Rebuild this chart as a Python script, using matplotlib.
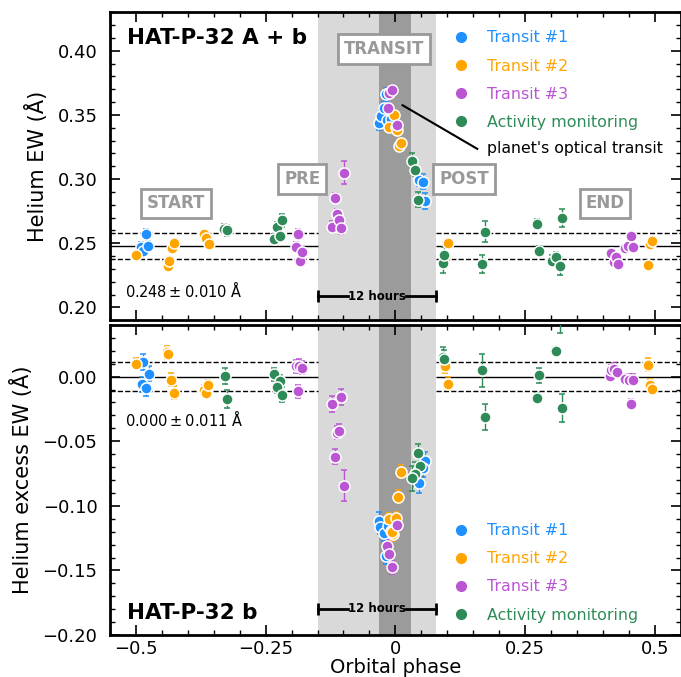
import numpy as np
import matplotlib.pyplot as plt
from matplotlib.lines import Line2D
from matplotlib.ticker import MultipleLocator

# ---- data ----
# top panel: Helium EW (A)
t1_ph = [-0.49, -0.487, -0.481, -0.476, -0.032, -0.0275, -0.022, -0.018, -0.017, -0.008, 0.045, 0.054, 0.058]
t1_ew = [0.247, 0.244, 0.257, 0.248, 0.344, 0.349, 0.355, 0.366, 0.346, 0.3465, 0.2995, 0.298, 0.283]
t1_er = [0.004, 0.004, 0.004, 0.004, 0.006, 0.005, 0.005, 0.005, 0.005, 0.005, 0.005, 0.006, 0.006]

t2_ph = [-0.5, -0.439, -0.437, -0.431, -0.427, -0.369, -0.365, -0.36, -0.013, -0.002, 0.001, 0.0025,
         0.008, 0.011, 0.1006, 0.096, 0.487, 0.49, 0.495]
t2_ew = [0.241, 0.232, 0.236, 0.246, 0.25, 0.257, 0.254, 0.2495, 0.3405, 0.35, 0.3405, 0.338,
         0.326, 0.328, 0.2498, 0.2385, 0.2327, 0.249, 0.2516]
t2_er = [0.003, 0.004, 0.003, 0.003, 0.003, 0.003, 0.003, 0.003, 0.004, 0.004, 0.004, 0.004,
         0.004, 0.004, 0.003, 0.003, 0.003, 0.003, 0.003]

t3_ph = [-0.191, -0.188, -0.183, -0.179, -0.122, -0.117, -0.113, -0.109, -0.104, -0.099, -0.0115,
         -0.006, -0.015, 0.0025, 0.415, 0.421, 0.4245, 0.4295, 0.4435, 0.449, 0.4545, 0.458]
t3_ew = [0.247, 0.257, 0.236, 0.243, 0.263, 0.285, 0.273, 0.268, 0.2615, 0.305, 0.367,
         0.369, 0.355, 0.342, 0.2424, 0.2353, 0.239, 0.234, 0.246, 0.2477, 0.2555, 0.247]
t3_er = [0.004, 0.004, 0.004, 0.004, 0.004, 0.004, 0.004, 0.004, 0.004, 0.009, 0.004,
         0.004, 0.004, 0.004, 0.003, 0.003, 0.003, 0.003, 0.003, 0.003, 0.003, 0.003]

am_ph = [-0.33, -0.325, -0.233, -0.229, -0.223, -0.219, 0.033, 0.037, 0.043, 0.091, 0.094,
         0.168, 0.173, 0.274, 0.2775, 0.3025, 0.31, 0.318, 0.322]
am_ew = [0.261, 0.26, 0.253, 0.2625, 0.2555, 0.268, 0.314, 0.307, 0.284, 0.2345, 0.241,
         0.234, 0.259, 0.265, 0.244, 0.2365, 0.239, 0.232, 0.2695]
am_er = [0.004, 0.004, 0.004, 0.004, 0.004, 0.005, 0.006, 0.005, 0.006, 0.008, 0.006,
         0.007, 0.008, 0.004, 0.004, 0.004, 0.004, 0.007, 0.007]

# bottom panel: Helium excess EW (A)
b1_ph = [-0.486, -0.4755, -0.489, -0.481, -0.032, -0.029, -0.021, -0.015, -0.0077, -0.018, 0.058, 0.0525, 0.045]
b1_ew = [0.0114, 0.0023, -0.006, -0.0086, -0.1117, -0.116, -0.121, -0.1156, -0.1195, -0.139, -0.0656, -0.071, -0.082]
b1_er = [0.006, 0.006, 0.006, 0.006, 0.007, 0.006, 0.006, 0.006, 0.006, 0.006, 0.007, 0.007, 0.008]

b2_ph = [-0.5, -0.441, -0.438, -0.433, -0.427, -0.369, -0.365, -0.361, -0.013, 0.001, -0.004,
         -0.006, 0.006, 0.011, 0.096, 0.1006, 0.487, 0.49, 0.495]
b2_ew = [0.0101, 0.019, 0.0179, -0.0023, -0.0124, -0.0106, -0.0124, -0.0068, -0.1104, -0.1096, -0.122,
         -0.12, -0.0928, -0.0736, 0.008, -0.0054, 0.0093, -0.0062, -0.0093]
b2_er = [0.004, 0.005, 0.004, 0.005, 0.005, 0.004, 0.004, 0.004, 0.005, 0.005, 0.005,
         0.005, 0.005, 0.005, 0.005, 0.005, 0.005, 0.004, 0.004]

b3_ph = [-0.192, -0.186, -0.1795, -0.188, -0.1225, -0.104, -0.113, -0.109, -0.117, -0.099, 0.0025,
         -0.017, -0.013, -0.007, 0.4135, 0.416, 0.421, 0.428, 0.4435, 0.451, 0.458, 0.4545]
b3_ew = [0.008, 0.0083, 0.007, -0.0114, -0.021, -0.0158, -0.0435, -0.0417, -0.062, -0.0845, -0.115,
         -0.131, -0.1376, -0.1477, 0.0003, 0.0049, 0.0062, 0.0036, -0.0016, -0.0023, -0.0023, -0.021]
b3_er = [0.005, 0.005, 0.005, 0.005, 0.006, 0.006, 0.005, 0.005, 0.006, 0.012, 0.005,
         0.005, 0.005, 0.005, 0.004, 0.004, 0.004, 0.004, 0.004, 0.004, 0.004, 0.004]

bm_ph = [-0.329, -0.3245, -0.233, -0.223, -0.2275, -0.219, 0.043, 0.0475, 0.038, 0.033, 0.091,
         0.094, 0.168, 0.173, 0.2775, 0.274, 0.307, 0.3096, 0.322, 0.318]
bm_ew = [0.0005, -0.017, 0.0018, -0.0034, -0.008, -0.014, -0.0594, -0.0695, -0.0754, -0.0788, 0.0153,
         0.0135, 0.0049, -0.0313, 0.001, -0.0166, 0.0205, 0.02, -0.0243, 0.046]
bm_er = [0.006, 0.007, 0.005, 0.005, 0.005, 0.006, 0.007, 0.008, 0.009, 0.01, 0.008,
         0.007, 0.013, 0.010, 0.006, 0.004, 0.003, 0.003, 0.011, 0.012]

labels = ['Transit #1', 'Transit #2', 'Transit #3', 'Activity monitoring']
colors = ['#1e90ff', '#ffa500', '#ba55d3', '#2e8b57']

top_mean, top_std = 0.248, 0.010
bot_mean, bot_std = 0.000, 0.011

pre_start, post_end = -0.15, 0.078
tr_start, tr_end = -0.031, 0.031

plt.rc('font', size=13)
fig = plt.figure(figsize=(6.81, 6.77), dpi=100)
ax1 = fig.add_axes([0.1615, 0.527, 0.838, 0.455])
ax2 = fig.add_axes([0.1615, 0.062, 0.838, 0.458])

top_sets = [(t1_ph, t1_ew, t1_er), (t2_ph, t2_ew, t2_er), (t3_ph, t3_ew, t3_er), (am_ph, am_ew, am_er)]
bot_sets = [(b1_ph, b1_ew, b1_er), (b2_ph, b2_ew, b2_er), (b3_ph, b3_ew, b3_er), (bm_ph, bm_ew, bm_er)]

for ax, sets, mean, std in [(ax1, top_sets, top_mean, top_std), (ax2, bot_sets, bot_mean, bot_std)]:
    ax.axvspan(pre_start, post_end, color='#d9d9d9', lw=0, zorder=0)
    ax.axvspan(tr_start, tr_end, color='#9b9b9b', lw=0, zorder=0)
    for xa, xb in [(-0.55, pre_start), (post_end, 0.55)]:
        ax.hlines(mean, xa, xb, color='k', lw=1, zorder=1)
        ax.hlines([mean - std, mean + std], xa, xb, color='k', lw=1, ls='--', zorder=1)
    for (ph, ew, er), c in zip(sets, colors):
        ax.errorbar(ph, ew, yerr=er, fmt='o', color=c, mfc=c, mec='white', mew=1.1, ms=8,
                    elinewidth=1, capsize=2, capthick=1, zorder=3)
    ax.set_xlim(-0.55, 0.55)
    ax.xaxis.set_major_locator(MultipleLocator(0.25))
    ax.xaxis.set_minor_locator(MultipleLocator(0.05))
    ax.yaxis.set_major_locator(MultipleLocator(0.05))
    ax.yaxis.set_minor_locator(MultipleLocator(0.01))
    ax.tick_params(which='both', direction='in', top=True, right=True)
    ax.tick_params(which='major', length=7, width=1.2)
    ax.tick_params(which='minor', length=3.5, width=1)
    ax.tick_params(axis='y', pad=9)
    for s in ax.spines.values():
        s.set_linewidth(2)

ax1.set_ylim(0.19, 0.43)
ax2.set_ylim(-0.2, 0.04)
ax1.set_xticklabels([])
ax2.set_xticks([-0.5, -0.25, 0, 0.25, 0.5])
ax2.set_xticklabels(['\u22120.5', '\u22120.25', '0', '0.25', '0.5'])
ax1.set_ylabel('Helium EW (\u00c5)', fontsize=15, labelpad=7)
ax2.set_ylabel('Helium excess EW (\u00c5)', fontsize=15, labelpad=7)
ax2.set_xlabel('Orbital phase', fontsize=14, labelpad=0)
fig.align_ylabels([ax1, ax2])

ax1.text(0.03, 0.95, 'HAT-P-32 A + b', transform=ax1.transAxes, fontsize=15.5,
         fontweight='bold', va='top', ha='left')
ax2.text(0.03, 0.04, 'HAT-P-32 b', transform=ax2.transAxes, fontsize=15.5,
         fontweight='bold', va='bottom', ha='left')
ax1.text(-0.522, 0.2135, '$0.248 \\pm 0.010$ \u00c5', fontsize=10.5, va='center')
ax2.text(-0.522, -0.0327, '$0.000 \\pm 0.011$ \u00c5', fontsize=10.5, va='center')

box = dict(boxstyle='square,pad=0.35', fc='white', ec='#999999', lw=2)
for x, y, t in [(-0.423, 0.281, 'START'), (-0.179, 0.3, 'PRE'), (-0.021, 0.4015, 'TRANSIT'),
                (0.1327, 0.3, 'POST'), (0.404, 0.281, 'END')]:
    ax1.text(x, y, t, ha='center', va='center', color='#999999', fontweight='bold',
             fontsize=12, bbox=box, zorder=5)

# 12 hours scale bar
for ax, y in [(ax1, 0.2085), (ax2, -0.1795)]:
    ax.plot([pre_start, -0.092], [y, y], color='k', lw=2, zorder=4)
    ax.plot([0.021, post_end], [y, y], color='k', lw=2, zorder=4)
    ax.plot([pre_start, post_end], [y, y], ls='', marker='|', ms=9, mew=2, color='k', zorder=4)
    ax.text(-0.036, y, '12 hours', ha='center', va='center', fontsize=8.5, fontweight='bold', zorder=4)

ax1.plot([0.014, 0.158], [0.3575, 0.3235], color='k', lw=1.5, zorder=4)
ax1.text(0.177, 0.3235, "planet's optical transit", fontsize=11.3, va='center')

handles = [Line2D([], [], marker='o', ls='', color=c, ms=7) for c in colors]
ax1.legend(handles, labels, loc='upper left', bbox_to_anchor=(0.563, 0.987), frameon=False,
           labelcolor=colors, fontsize=11.4, handletextpad=0.65, labelspacing=0.83)
ax2.legend(handles, labels, loc='lower left', bbox_to_anchor=(0.563, -0.006), frameon=False,
           labelcolor=colors, fontsize=11.4, handletextpad=0.65, labelspacing=0.83)

plt.savefig('out.png', dpi=100)
